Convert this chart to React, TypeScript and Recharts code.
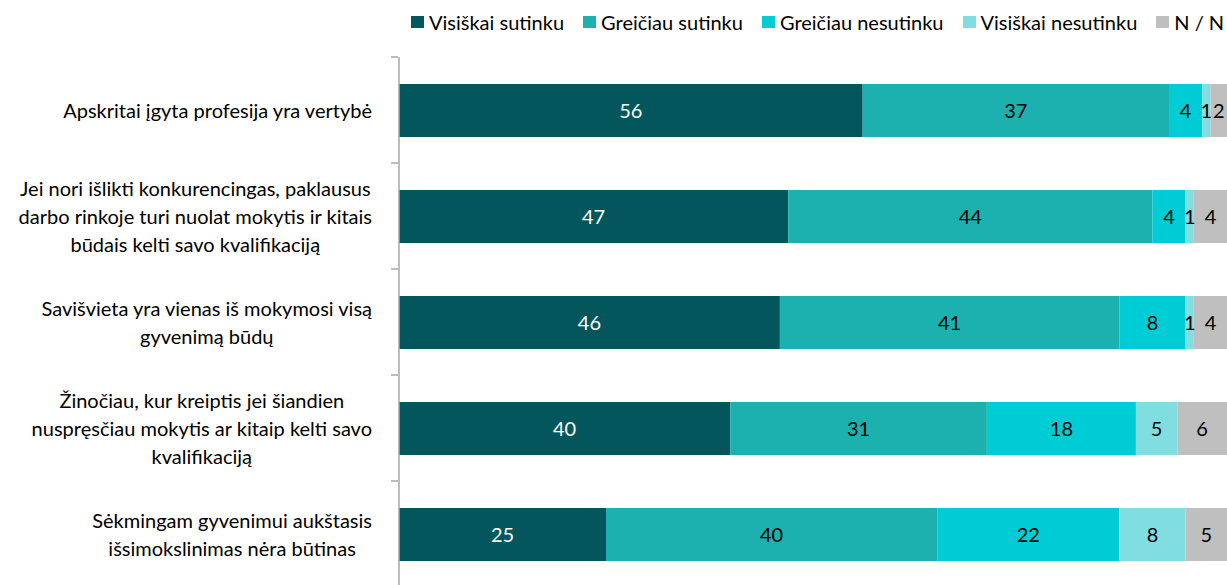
import React from 'react';
import { BarChart, Bar, XAxis, YAxis, LabelList } from 'recharts';

const categories = [
  'Apskritai įgyta profesija yra vertybė',
  'Jei nori išlikti konkurencingas, paklausus\ndarbo rinkoje turi nuolat mokytis ir kitais\nbūdais kelti savo kvalifikaciją',
  'Savišvieta yra vienas iš mokymosi visą\ngyvenimą būdų',
  'Žinočiau, kur kreiptis jei šiandien\nnuspręsčiau mokytis ar kitaip kelti savo\nkvalifikaciją',
  'Sėkmingam gyvenimui aukštasis\nišsimokslinimas nėra būtinas',
];

const visiskaiSutinku = [56, 47, 46, 40, 25];
const greiciauSutinku = [37, 44, 41, 31, 40];
const greiciauNesutinku = [4, 4, 8, 18, 22];
const visiskaiNesutinku = [1, 1, 1, 5, 8];
const nn = [2, 4, 4, 6, 5];

const series = [
  { key: 'vs', name: 'Visiškai sutinku', color: '#03565B', text: '#ffffff' },
  { key: 'gs', name: 'Greičiau sutinku', color: '#1CB1AE', text: '#000000' },
  { key: 'gn', name: 'Greičiau nesutinku', color: '#00CCD5', text: '#000000' },
  { key: 'vn', name: 'Visiškai nesutinku', color: '#80DDE0', text: '#000000' },
  { key: 'nn', name: 'N / N', color: '#BFBFBF', text: '#000000' },
];

const data = categories.map((name, i) => ({
  name,
  vs: visiskaiSutinku[i],
  gs: greiciauSutinku[i],
  gn: greiciauNesutinku[i],
  vn: visiskaiNesutinku[i],
  nn: nn[i],
}));

const FONT = 'Lato, "Open Sans", sans-serif';

// category label: centred lines, block right edge near the axis; tick mark at band edge
const CategoryTick = (props: any) => {
  const { y, payload } = props;
  return (
    <g>
      <line x1={391} x2={398} y1={y - 53} y2={y - 53} stroke='#A6A6A6' strokeWidth={1.5} />
      <foreignObject x={0} y={y - 50} width={372} height={100}>
        <div
          style={{
            display: 'flex',
            justifyContent: 'flex-end',
            alignItems: 'center',
            height: '100%',
          }}
        >
          <div
            style={{
              textAlign: 'center',
              whiteSpace: 'pre-line',
              fontFamily: FONT,
              fontSize: 20,
              lineHeight: '28px',
              color: '#000',
            }}
          >
            {payload.value}
          </div>
        </div>
      </foreignObject>
    </g>
  );
};

const LegendRow = () => (
  <div
    style={{
      position: 'absolute',
      left: 411,
      top: 10,
      display: 'flex',
      alignItems: 'center',
      fontFamily: FONT,
      fontSize: 20,
      lineHeight: '24px',
      color: '#000',
      whiteSpace: 'nowrap',
    }}
  >
    {series.map((s) => (
      <div key={s.key} style={{ display: 'flex', alignItems: 'center', marginRight: 19 }}>
        <span
          style={{
            display: 'inline-block',
            width: 13,
            height: 12,
            background: s.color,
            marginRight: 5,
          }}
        />
        <span>{s.name}</span>
      </div>
    ))}
  </div>
);

export default function App() {
  return (
    <div
      style={{
        position: 'absolute',
        left: 0,
        top: 0,
        width: 1227,
        height: 585,
        overflow: 'hidden',
        background: '#fff',
      }}
    >
      <LegendRow />
      <BarChart
        width={1227}
        height={590}
        data={data}
        layout='vertical'
        margin={{ top: 57, right: 0, bottom: 3, left: 0 }}
        barSize={53}
      >
        <XAxis type='number' domain={[0, 100]} hide />
        <YAxis
          type='category'
          dataKey='name'
          width={399}
          axisLine={{ stroke: '#A6A6A6', strokeWidth: 1.5 }}
          tickLine={false}
          tick={<CategoryTick />}
          interval={0}
        />
        {series.map((s) => (
          <Bar key={s.key} dataKey={s.key} name={s.name} stackId='a' fill={s.color} isAnimationActive={false}>
            <LabelList
              dataKey={s.key}
              position='center'
              fill={s.text}
              style={{ fontFamily: FONT, fontSize: 20 }}
            />
          </Bar>
        ))}
      </BarChart>
    </div>
  );
}
